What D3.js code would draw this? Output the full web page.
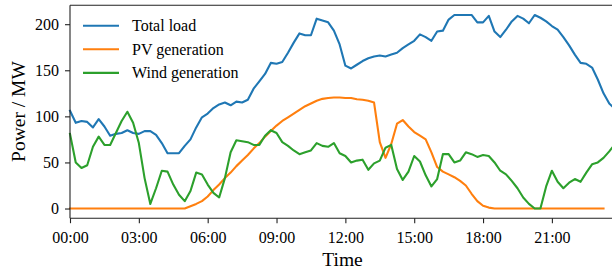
<!DOCTYPE html>
<html>
<head>
<meta charset="utf-8">
<script src="https://cdn.jsdelivr.net/npm/d3@7"></script>
<style>
  html, body { margin: 0; padding: 0; background: #fff; }
  svg { display: block; }
  text { font-family: "Liberation Serif", "Times New Roman", serif; fill: #000; }
</style>
</head>
<body>
<svg id="chart" width="612" height="271"></svg>
<script>
// 15-minute intervals, index 0..95
const xTickIdx = [0, 12, 24, 36, 48, 60, 72, 84];
const xTickLabels = ["00:00", "03:00", "06:00", "09:00", "12:00", "15:00", "18:00", "21:00"];
const yTicks = [0, 50, 100, 150, 200];
const seriesNames = ["Total load", "PV generation", "Wind generation"];
const seriesColors = ["#1f77b4", "#ff7f0e", "#2ca02c"];

const totalLoad = [106, 93, 95, 94, 88, 97, 89, 79, 81, 82, 85, 82, 81, 84, 84, 80,
  71, 60, 60, 60, 68, 75, 88, 99, 103, 109, 113, 115, 112, 116, 115, 118,
  130, 138, 146, 158, 157, 159, 169, 180, 190, 188, 188, 206, 204, 202, 193, 178,
  155, 152, 156, 160, 163, 165, 166, 165, 167, 169, 174, 178, 182, 189, 186, 182,
  192, 193, 205, 210, 210, 210, 210, 202, 202, 209, 192, 186, 194, 203, 209, 206,
  201, 210, 207, 203, 198, 194, 186, 177, 167, 158, 157, 153, 140, 125, 114, 108];

const pvGeneration = [0, 0, 0, 0, 0, 0, 0, 0, 0, 0, 0, 0, 0, 0, 0, 0,
  0, 0, 0, 0, 0, 2.5, 5, 8, 13, 20, 26, 33, 39, 46, 52, 58,
  65, 71, 78, 84, 90, 95, 99, 103, 107, 111, 114, 117, 119, 120, 120.5, 120.5,
  120, 120, 118.5, 118, 117, 115, 72, 55, 70, 92, 96, 89, 83, 79,
  75, 61, 45, 40, 37, 34, 30, 25, 16, 8, 3, 1, 0, 0, 0, 0,
  0, 0, 0, 0, 0, 0, 0, 0, 0, 0, 0, 0, 0, 0, 0, 0];

const windGeneration = [81, 50, 44, 47, 67, 78, 69, 69, 82, 95, 105, 93, 71, 33, 5, 22,
  41, 40, 26, 15, 8, 19, 39, 37, 26, 17, 12, 33, 61, 74, 73, 72,
  69, 69, 79, 85, 82, 72, 68, 63, 59, 61, 63, 71, 68, 67, 71, 60,
  57, 50, 52, 53, 42, 49, 52, 66, 69, 43, 31, 40, 57, 51, 36, 24,
  32, 59, 59, 50, 52, 61, 59, 56, 58, 57, 50, 41, 37, 30, 22, 12,
  5, 0, 0, 24, 41, 29, 22, 28, 32, 29, 39, 48, 50, 55, 62, 70];

const series = [totalLoad, pvGeneration, windGeneration];

const svg = d3.select("#chart");
const mLeft = 70, mRight = 615, mTop = 5.3, mBottom = 218.2;

const x = d3.scaleLinear().domain([0, 95]).range([mLeft, mRight]);
const y = d3.scaleLinear().domain([-10.5, 220.5]).range([mBottom, mTop]);

// lines
const line = d3.line().x((d, i) => x(i)).y(d => y(d));
series.forEach((s, k) => {
  svg.append("path")
    .datum(s)
    .attr("fill", "none")
    .attr("stroke", seriesColors[k])
    .attr("stroke-width", 2.1)
    .attr("stroke-linejoin", "round")
    .attr("stroke-linecap", "square")
    .attr("d", line);
});

// spines
svg.append("line").attr("x1", mLeft).attr("x2", 612).attr("y1", mTop).attr("y2", mTop)
  .attr("stroke", "#222").attr("stroke-width", 1.1);
svg.append("line").attr("x1", mLeft).attr("x2", 612).attr("y1", mBottom).attr("y2", mBottom)
  .attr("stroke", "#222").attr("stroke-width", 1.1);
svg.append("line").attr("x1", mLeft).attr("x2", mLeft).attr("y1", mTop).attr("y2", mBottom)
  .attr("stroke", "#222").attr("stroke-width", 1.1);

// x axis
const xAxis = d3.axisBottom(x).tickValues(xTickIdx)
  .tickFormat((d, i) => xTickLabels[i]).tickSize(5).tickPadding(8);
const gx = svg.append("g").attr("transform", `translate(0,${mBottom})`).call(xAxis);
gx.select(".domain").remove();
gx.selectAll(".tick line").attr("stroke", "#222").attr("stroke-width", 1.1);
gx.selectAll(".tick text").attr("font-size", 16).attr("font-family", "Liberation Serif").attr("fill", "#000");

// y axis
const yAxis = d3.axisLeft(y).tickValues(yTicks).tickSize(5).tickPadding(6);
const gy = svg.append("g").attr("transform", `translate(${mLeft},0)`).call(yAxis);
gy.select(".domain").remove();
gy.selectAll(".tick line").attr("stroke", "#222").attr("stroke-width", 1.1);
gy.selectAll(".tick text").attr("font-size", 16).attr("font-family", "Liberation Serif").attr("fill", "#000");

// axis labels
svg.append("text").attr("x", 342.5).attr("y", 266).attr("text-anchor", "middle")
  .attr("font-size", 19.5).text("Time");
svg.append("text").attr("transform", "translate(25,111.5) rotate(-90)")
  .attr("text-anchor", "middle").attr("font-size", 19.5).text("Power / MW");

// legend
const legY = [25.7, 49.3, 72.9];
seriesNames.forEach((name, k) => {
  svg.append("line").attr("x1", 83).attr("x2", 119).attr("y1", legY[k]).attr("y2", legY[k])
    .attr("stroke", seriesColors[k]).attr("stroke-width", 2.1);
  svg.append("text").attr("x", 132).attr("y", legY[k] + 5.5).attr("font-size", 16).text(name);
});
</script>
</body>
</html>
